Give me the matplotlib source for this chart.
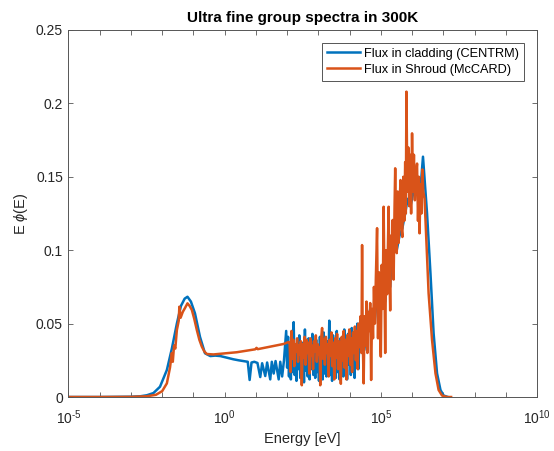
import matplotlib
matplotlib.use("Agg")
import matplotlib.pyplot as plt
import numpy as np

plt.rcParams['font.family'] = ['Liberation Sans', 'DejaVu Sans']
plt.rcParams['mathtext.fontset'] = 'custom'
plt.rcParams['mathtext.rm'] = 'Liberation Sans'
plt.rcParams['mathtext.it'] = 'Liberation Sans:italic'

# log10(E) and E*phi(E)
cladding_exp = [-5.0, -4.0, -3.0, -2.7, -2.49, -2.28, -2.07, -1.85, -1.69, -1.53,
                -1.40, -1.28, -1.19, -1.08, -0.95, -0.79, -0.63, -0.46, -0.30, -0.14,
                0.07, 0.28, 0.45, 0.60, 0.74, 0.80, 0.86, 0.95, 1.05, 1.14,
                1.20, 1.30, 1.36, 1.46, 1.51, 1.57, 1.63, 1.73, 1.78, 1.84,
                1.90, 1.97,
                2.00, 2.03, 2.06, 2.09, 2.12, 2.15, 2.18, 2.21, 2.24, 2.27,
                2.30, 2.33, 2.36, 2.39, 2.42, 2.45, 2.48, 2.51, 2.54, 2.57,
                2.60, 2.63, 2.66, 2.69, 2.72, 2.75, 2.78, 2.81, 2.84, 2.87,
                2.90, 2.93, 2.96, 2.99, 3.02, 3.05, 3.08, 3.11, 3.14, 3.17,
                3.20, 3.23, 3.26, 3.29, 3.32, 3.35, 3.38, 3.41, 3.44, 3.47,
                3.50, 3.53, 3.56, 3.59, 3.62, 3.65, 3.68, 3.71, 3.74, 3.77,
                3.80, 3.83, 3.86, 3.89, 3.92, 3.95, 3.98, 4.01, 4.04, 4.07,
                4.10, 4.13, 4.16, 4.19, 4.22, 4.25, 4.28, 4.31, 4.35,
                4.40, 4.45, 4.50, 4.55, 4.60, 4.66, 4.75, 4.85, 4.92, 4.98,
                5.05, 5.14, 5.20, 5.30, 5.38, 5.46, 5.51, 5.60, 5.69, 5.78,
                5.86, 5.95, 6.05, 6.16, 6.24, 6.30, 6.35, 6.48, 6.59, 6.69,
                6.80, 6.91, 7.01, 7.15]
cladding_flux = [0.0, 0.0, 0.0002, 0.0005, 0.0012, 0.0027, 0.007, 0.0184, 0.033, 0.050,
                 0.062, 0.067, 0.0683, 0.065, 0.057, 0.041, 0.0298, 0.0279, 0.0282, 0.0279,
                 0.0268, 0.0257, 0.025, 0.0245, 0.024, 0.0116, 0.0235, 0.024, 0.0232, 0.0136,
                 0.023, 0.0143, 0.0235, 0.012, 0.024, 0.016, 0.0245, 0.012, 0.024, 0.014,
                 0.025, 0.045,
                 0.020, 0.041, 0.014, 0.035, 0.012, 0.044, 0.017, 0.051, 0.015, 0.031,
                 0.011, 0.038, 0.019, 0.042, 0.013, 0.029, 0.016, 0.037, 0.010, 0.046,
                 0.018, 0.033, 0.014, 0.040, 0.012, 0.036, 0.019, 0.043, 0.015, 0.030,
                 0.013, 0.039, 0.017, 0.034, 0.011, 0.041, 0.020, 0.036, 0.012, 0.044,
                 0.016, 0.031, 0.014, 0.038, 0.018, 0.052, 0.015, 0.035, 0.011, 0.042,
                 0.019, 0.033, 0.013, 0.045, 0.017, 0.037, 0.012, 0.040, 0.021, 0.034,
                 0.014, 0.046, 0.018, 0.039, 0.012, 0.043, 0.022, 0.035, 0.015, 0.047,
                 0.020, 0.038, 0.013, 0.041, 0.024, 0.050, 0.019, 0.036, 0.035,
                 0.045, 0.030, 0.048, 0.032, 0.050, 0.060, 0.052, 0.070, 0.050, 0.060,
                 0.078, 0.065, 0.083, 0.075, 0.110, 0.120, 0.100, 0.110, 0.115, 0.125,
                 0.135, 0.130, 0.140, 0.150, 0.140, 0.150, 0.1637, 0.125, 0.084, 0.0434,
                 0.0161, 0.0048, 0.001, 0.0]

shroud_exp = [-5.0, -4.0, -3.0, -2.5, -2.2, -2.0, -1.85, -1.75, -1.69, -1.66,
              -1.62, -1.58, -1.53, -1.47, -1.45, -1.41, -1.34, -1.27, -1.19, -1.12,
              -1.05, -0.97, -0.89, -0.81, -0.73, -0.65, -0.57, -0.36, 0.0, 0.39,
              0.98, 1.02, 1.06, 1.46, 1.88, 2.05,
              2.08, 2.11, 2.14, 2.17, 2.20, 2.23, 2.26, 2.29, 2.32, 2.35,
              2.38, 2.41, 2.44, 2.47, 2.50, 2.53, 2.56, 2.59, 2.62, 2.65,
              2.68, 2.71, 2.74, 2.77, 2.80, 2.83, 2.86, 2.89, 2.92, 2.95,
              2.98, 3.01, 3.04, 3.06, 3.09, 3.12, 3.15, 3.18, 3.21, 3.24,
              3.27, 3.30, 3.33, 3.36, 3.39, 3.42, 3.45, 3.48, 3.51, 3.54,
              3.57, 3.60, 3.63, 3.66, 3.69, 3.72, 3.75, 3.78, 3.81, 3.84,
              3.87, 3.90, 3.93, 3.96, 3.99, 4.02, 4.05, 4.08, 4.11, 4.14,
              4.17, 4.20, 4.23, 4.26, 4.29, 4.32, 4.35, 4.38,
              4.40, 4.42, 4.45, 4.48, 4.51, 4.54, 4.57, 4.60, 4.63, 4.66,
              4.69, 4.72, 4.75, 4.78, 4.81, 4.84, 4.88, 4.91, 4.94, 4.97,
              5.00, 5.03, 5.06, 5.09, 5.12, 5.14, 5.17, 5.20, 5.23, 5.25,
              5.28, 5.30, 5.33, 5.36, 5.38, 5.41, 5.44, 5.46, 5.49, 5.51,
              5.54, 5.57, 5.60, 5.63, 5.66, 5.69, 5.72, 5.75, 5.78, 5.80,
              5.82, 5.85, 5.88, 5.91, 5.94, 5.97, 6.00, 6.03, 6.06, 6.09,
              6.12, 6.16, 6.19, 6.22, 6.24, 6.27, 6.30, 6.33, 6.36, 6.40,
              6.43, 6.53, 6.64, 6.75, 6.85, 6.96, 7.12, 7.25]
shroud_flux = [0.0, 0.0, 0.0001, 0.0005, 0.0015, 0.004, 0.0093, 0.020, 0.030, 0.024,
               0.035, 0.033, 0.0456, 0.052, 0.0615, 0.054, 0.058, 0.0606, 0.0638, 0.062,
               0.0593, 0.053, 0.0456, 0.039, 0.0343, 0.031, 0.0293, 0.029, 0.0297, 0.0305,
               0.0325, 0.0335, 0.0326, 0.0343, 0.0361, 0.0375,
               0.037, 0.017, 0.045, 0.026, 0.039, 0.021, 0.036, 0.031, 0.040, 0.024,
               0.035, 0.029, 0.038, 0.008, 0.036, 0.027, 0.041, 0.022, 0.039, 0.030,
               0.037, 0.016, 0.040, 0.028, 0.035, 0.019, 0.038, 0.031, 0.042, 0.024,
               0.036, 0.029, 0.034, 0.008, 0.040, 0.047, 0.026, 0.039, 0.022, 0.041,
               0.030, 0.036, 0.014, 0.039, 0.028, 0.044, 0.021, 0.037, 0.012, 0.040,
               0.027, 0.043, 0.019, 0.038, 0.031, 0.009, 0.041, 0.025, 0.045, 0.020,
               0.039, 0.012, 0.042, 0.028, 0.046, 0.022, 0.040, 0.017, 0.044, 0.030,
               0.048, 0.025, 0.045, 0.019, 0.050, 0.034, 0.055, 0.030,
               0.1035, 0.040, 0.0093, 0.055, 0.035, 0.065, 0.030, 0.058, 0.045, 0.064,
               0.0116, 0.060, 0.040, 0.075, 0.050, 0.080, 0.115, 0.040, 0.085, 0.0456,
               0.0275, 0.090, 0.060, 0.1296, 0.070, 0.030, 0.100, 0.070, 0.105, 0.1296,
               0.080, 0.059, 0.110, 0.090, 0.1206, 0.080, 0.130, 0.1558, 0.110, 0.098,
               0.140, 0.105, 0.130, 0.1478, 0.115, 0.109, 0.150, 0.120, 0.160, 0.125,
               0.208, 0.140, 0.170, 0.130, 0.165, 0.125, 0.1796, 0.140, 0.165, 0.134,
               0.150, 0.159, 0.120, 0.150, 0.1115, 0.145, 0.125, 0.155, 0.140, 0.135,
               0.1206, 0.0706, 0.0388, 0.0161, 0.0048, 0.001, 0.0, 0.0]

cladding_energy = 10.0 ** np.array(cladding_exp)
shroud_energy = 10.0 ** np.array(shroud_exp)

fig = plt.figure(figsize=(5.54, 4.51), dpi=100)
ax = fig.add_axes([0.1236, 0.1197, 0.8457, 0.8138])

ax.plot(cladding_energy, cladding_flux, color='#0072BD', lw=1.8, label='Flux in cladding (CENTRM)')
ax.plot(shroud_energy, shroud_flux, color='#D95319', lw=1.8, label='Flux in Shroud (McCARD)')

ax.set_xscale('log')
ax.set_xlim(1e-5, 1e10)
ax.set_ylim(0, 0.25)
ax.set_xticks([1e-5, 1e0, 1e5, 1e10])
ax.set_xticklabels(['$10^{\\text{-}5}$', '$10^{0}$', '$10^{5}$', '$10^{10}$'])
ax.set_xticks([10.0 ** k for k in range(-5, 11)], minor=True)
ax.xaxis.set_minor_formatter(matplotlib.ticker.NullFormatter())
ax.set_yticks([0, 0.05, 0.1, 0.15, 0.2, 0.25])
ax.set_yticklabels(['0', '0.05', '0.1', '0.15', '0.2', '0.25'])

ax.tick_params(which='both', direction='in', top=True, right=True, length=3.5,
               width=0.6, color='#555555', labelsize=10, labelcolor='#262626', pad=4)
ax.tick_params(axis='x', which='major', pad=8)
for s in ax.spines.values():
    s.set_color('#555555')
    s.set_linewidth(0.7)

ax.set_xlabel('Energy [eV]', fontsize=10.5, color='#262626')
ax.set_ylabel('E $\\phi$(E)', fontsize=10.5, color='#262626')
ax.set_title('Ultra fine group spectra in 300K', fontsize=11, fontweight='bold', color='black')

leg = ax.legend(loc='upper right', fontsize=9.2, fancybox=False, framealpha=1,
                edgecolor='#555555', borderaxespad=1.0, handlelength=2.6,
                handletextpad=0.3, labelspacing=0.3, borderpad=0.4)
leg.get_frame().set_linewidth(0.7)

fig.savefig('out.png', dpi=100)
